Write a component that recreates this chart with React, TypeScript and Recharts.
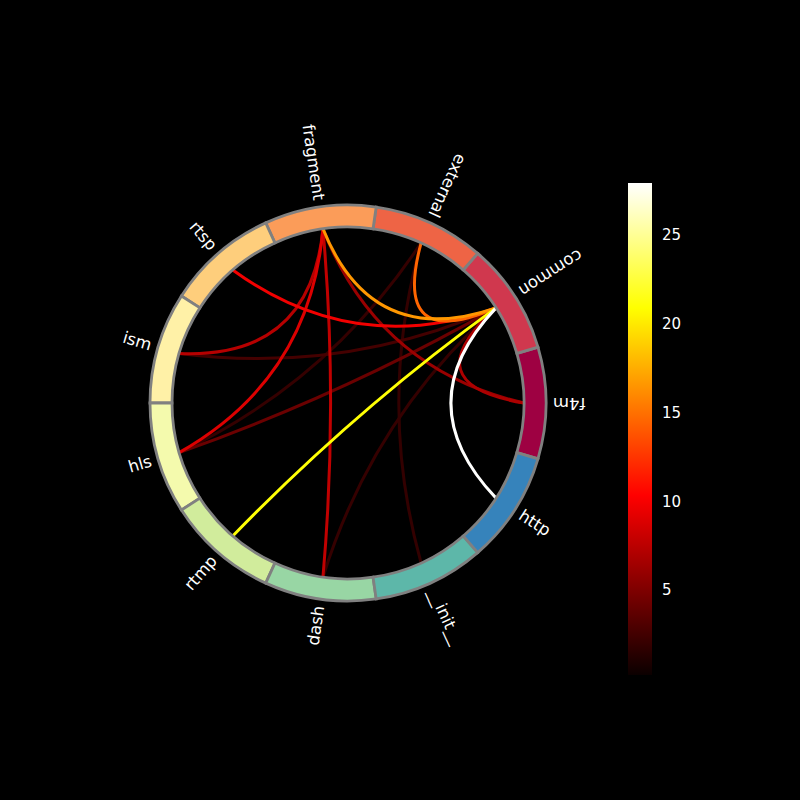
import { PieChart, Pie, Cell, BarChart, Bar, XAxis, YAxis, Customized } from 'recharts';

// modules around the ring, counter-clockwise starting at the east
const nodes = ['f4m', 'common', 'external', 'fragment', 'rtsp', 'ism', 'hls', 'rtmp', 'dash', '__init__', 'http'];
const nodeSizes = [1, 1, 1, 1, 1, 1, 1, 1, 1, 1, 1];

// links between modules
const chordFrom = ['common', 'common', 'fragment', 'external', 'rtsp', 'fragment', 'fragment', 'fragment', 'common', 'fragment', 'hls', 'ism', 'dash', 'external', 'external'];
const chordTo = ['http', 'rtmp', 'common', 'common', 'common', 'hls', 'dash', 'ism', 'f4m', 'f4m', 'common', 'common', 'common', 'hls', '__init__'];
const chordValues = [27.9, 21, 16.6, 14.5, 9.4, 8.5, 7.4, 7, 6.6, 5.9, 4, 2.5, 1.9, 1.9, 1.8];

const colorbarTicks = [5, 10, 15, 20, 25];
const colorMin = 0.21;
const colorMax = 27.93;

const spectral = ['#9e0142', '#d53e4f', '#f46d43', '#fdae61', '#fee08b', '#ffffbf', '#e6f598', '#abdda4', '#66c2a5', '#3288bd', '#5e4fa2'];

const CX = 348;
const CY = 403;
const R_IN = 176;
const R_OUT = 198;
const START = -180 / nodes.length;
const BEND = 0.39;

const hex = (s: string) => [1, 3, 5].map((i) => parseInt(s.slice(i, i + 2), 16));
const rgb = (c: number[]) => `rgb(${c.map((v) => Math.round(v)).join(',')})`;

function spectralAt(t: number) {
    const x = t * (spectral.length - 1);
    const i = Math.min(Math.floor(x), spectral.length - 2);
    const f = x - i;
    const a = hex(spectral[i]);
    const b = hex(spectral[i + 1]);
    return rgb(a.map((v, k) => v + (b[k] - v) * f));
}

function hotAt(v: number) {
    const t = Math.max(0, Math.min(1, (v - colorMin) / (colorMax - colorMin)));
    const r = Math.min(1, 0.0416 + t / 0.365);
    const g = Math.max(0, Math.min(1, (t - 0.365) / 0.381));
    const b = Math.max(0, Math.min(1, (t - 0.746) / 0.254));
    return rgb([r * 255, g * 255, b * 255]);
}

const pieData = nodes.map((name, i) => ({ name, size: nodeSizes[i] }));
const barData = [{ name: 'cb', range: [colorMin, colorMax] }];

function Chords() {
    const step = 360 / nodes.length;
    const pt = (name: string) => {
        const a = ((START + (nodes.indexOf(name) + 0.5) * step) * Math.PI) / 180;
        return [R_IN * Math.cos(a), -R_IN * Math.sin(a)];
    };
    const order = chordValues.map((v, i) => i).sort((a, b) => chordValues[a] - chordValues[b]);
    return (
        <g>
            {order.map((i) => {
                const p = pt(chordFrom[i]);
                const q = pt(chordTo[i]);
                const c = [BEND * (p[0] + q[0]) / 2, BEND * (p[1] + q[1]) / 2];
                const d = `M${CX + p[0]},${CY + p[1]} Q${CX + c[0]},${CY + c[1]} ${CX + q[0]},${CY + q[1]}`;
                return <path key={i} d={d} fill="none" stroke={hotAt(chordValues[i])} strokeWidth={3} />;
            })}
        </g>
    );
}

const renderLabel = (props: any) => {
    const { cx, cy, midAngle, name } = props;
    const a = ((midAngle % 360) + 360) % 360;
    const rad = (a * Math.PI) / 180;
    const x = cx + 205 * Math.cos(rad);
    const y = cy - 205 * Math.sin(rad);
    const flip = a < 270;
    const rot = flip ? 180 - a : -a;
    return (
        <text
            x={x}
            y={y}
            fill="#ffffff"
            fontSize={16.5}
            fontFamily="DejaVu Sans"
            textAnchor={flip ? 'end' : 'start'}
            dominantBaseline="central"
            transform={`rotate(${rot} ${x} ${y})`}
        >
            {name}
        </text>
    );
};

export default function App() {
    return (
        <div style={{ position: 'fixed', left: 0, top: 0, width: 800, height: 800, background: '#000' }}>
            <div style={{ position: 'absolute', left: 0, top: 0 }}>
                <PieChart width={800} height={800} margin={{ top: 0, right: 0, bottom: 0, left: 0 }}>
                    <Customized component={Chords} />
                    <Pie
                        data={pieData}
                        dataKey="size"
                        nameKey="name"
                        cx={CX}
                        cy={CY}
                        innerRadius={R_IN}
                        outerRadius={R_OUT}
                        startAngle={START}
                        endAngle={START + 360}
                        stroke="#808080"
                        strokeWidth={2.8}
                        label={renderLabel}
                        labelLine={false}
                        isAnimationActive={false}
                    >
                        {pieData.map((d, i) => (
                            <Cell key={d.name} fill={spectralAt(i / nodes.length)} />
                        ))}
                    </Pie>
                </PieChart>
            </div>
            <div style={{ position: 'absolute', left: 0, top: 0 }}>
                <BarChart width={800} height={800} data={barData} margin={{ top: 183, bottom: 125, left: 628, right: 88 }} barCategoryGap={0}>
                    <defs>
                        <linearGradient id="hotGrad" x1="0" y1="0" x2="0" y2="1">
                            <stop offset="0" stopColor="#ffffff" />
                            <stop offset="0.254" stopColor="#ffff00" />
                            <stop offset="0.635" stopColor="#ff0000" />
                            <stop offset="1" stopColor="#0b0000" />
                        </linearGradient>
                    </defs>
                    <XAxis dataKey="name" hide />
                    <YAxis
                        orientation="right"
                        width={60}
                        type="number"
                        domain={[colorMin, colorMax]}
                        ticks={colorbarTicks}
                        allowDataOverflow
                        axisLine={false}
                        tickLine={false}
                        tickSize={6}
                        tickMargin={4}
                        tick={{ fill: '#ffffff', fontSize: 15, fontFamily: 'DejaVu Sans' }}
                    />
                    <Bar dataKey="range" fill="url(#hotGrad)" isAnimationActive={false} />
                </BarChart>
            </div>
        </div>
    );
}
